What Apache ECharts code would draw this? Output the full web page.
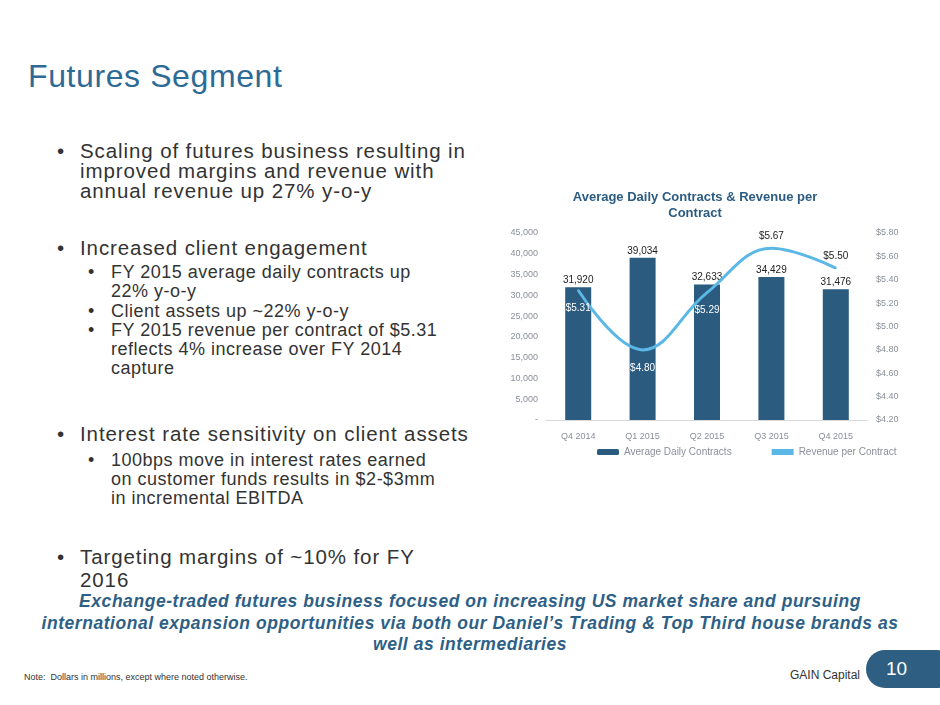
<!DOCTYPE html>
<html><head><meta charset="utf-8">
<script src="https://cdn.jsdelivr.net/npm/echarts@6/dist/echarts.min.js"></script>
<style>
body{margin:0;width:940px;height:705px;position:relative;background:#fff;font-family:Arial,"Liberation Sans",sans-serif;overflow:hidden}
.t{position:absolute;left:28px;top:58px;font-size:32px;letter-spacing:0.6px;color:#2d6a96}
.m,.s{position:absolute;color:#333}
.m{left:80px;font-size:20.5px;letter-spacing:0.9px;line-height:20px;width:400px}
.s{left:111px;font-size:18px;letter-spacing:0.5px;line-height:19px;width:335px}
.m:before,.s:before{content:"•";position:absolute}
.m:before{left:-23px}.s:before{left:-23px}
.b{position:absolute;left:20px;width:900px;top:591px;text-align:center;font-style:italic;font-weight:bold;color:#2e5f86;font-size:17.5px;letter-spacing:0.55px;line-height:21.5px}
</style></head><body>
<div class="t">Futures Segment</div>
<div class="m" style="top:141px">Scaling of futures business resulting in improved margins and revenue with annual revenue up 27% y-o-y</div>
<div class="m" style="top:238px">Increased client engagement</div>
<div class="s" style="top:263px">FY 2015 average daily contracts up 22% y-o-y</div>
<div class="s" style="top:302px">Client assets up ~22% y-o-y</div>
<div class="s" style="top:321px">FY 2015 revenue per contract of $5.31 reflects 4% increase over FY 2014 capture</div>
<div class="m" style="top:424px">Interest rate sensitivity on client assets</div>
<div class="s" style="top:451px">100bps move in interest rates earned on customer funds results in $2-$3mm in incremental EBITDA</div>
<div class="m" style="top:545px;line-height:23px">Targeting margins of ~10% for FY<br>2016</div>
<div class="b">Exchange-traded futures business focused on increasing US market share and pursuing<br>international expansion opportunities via both our Daniel’s Trading &amp; Top Third house brands as<br>well as intermediaries</div>
<div style="position:absolute;left:24px;top:672px;font-size:9px;color:#333">Note:&nbsp; Dollars in millions, except where noted otherwise.</div>
<div style="position:absolute;left:790px;top:668px;font-size:12px;color:#333">GAIN Capital</div>
<div style="position:absolute;left:866px;top:650px;width:90px;height:38px;border-radius:19px;background:#2e5f82;color:#fff;font-size:19px;line-height:38px;padding-left:20px;box-sizing:border-box">10</div>
<div id="c" style="position:absolute;left:480px;top:180px;width:440px;height:290px"></div>
<script>
const categories=['Q4 2014','Q1 2015','Q2 2015','Q3 2015','Q4 2015'];
const contracts=[31920,39034,32633,34429,31476];
const revenue=[5.31,4.80,5.29,5.67,5.50];
const contractLabels=['31,920','39,034','32,633','34,429','31,476'];
const linePos=['bottom','bottom','bottom','top','top'];
const ch=echarts.init(document.getElementById('c'));
const lbl={color:'#8a8f99',fontSize:9,fontFamily:'Arial'};
ch.setOption({
 title:{text:'Average Daily Contracts & Revenue per\nContract',left:210,top:4,textAlign:'center',textStyle:{color:'#2b5b82',fontSize:13,fontWeight:'bold',lineHeight:16}},
 legend:{bottom:8,left:112,itemGap:40,itemWidth:22,itemHeight:6,textStyle:{color:'#8a8f99',fontSize:10},data:[{name:'Average Daily Contracts'},{name:'Revenue per Contract',icon:'rect',itemStyle:{color:'#5bb8e6'}}]},
 grid:{left:66,right:52,top:53,bottom:50},
 xAxis:{type:'category',data:categories,axisTick:{show:false},axisLine:{lineStyle:{color:'#d9d9d9'}},axisLabel:{...lbl,margin:12}},
 yAxis:[{type:'value',min:0,max:45000,interval:5000,splitLine:{show:false},axisLabel:{...lbl,formatter:v=>v===0?'-':v.toLocaleString('en-US')}},
        {type:'value',min:4.2,max:5.8,interval:0.2,splitLine:{show:false},axisLabel:{...lbl,margin:8,formatter:v=>'$'+v.toFixed(2)}}],
 series:[
  {name:'Average Daily Contracts',type:'bar',data:contracts,barWidth:26,itemStyle:{color:'#2b5b7e'},z:1,
   label:{show:true,position:'top',distance:2,color:'#222',fontSize:10,formatter:p=>contractLabels[p.dataIndex]}},
  {name:'Revenue per Contract',type:'line',yAxisIndex:1,smooth:0.4,symbol:'circle',symbolSize:2,showSymbol:true,z:3,
   data:revenue.map((v,i)=>({value:v,label:{position:linePos[i],distance:i<3?12:6,color:i<3?'#ffffff':'#222222'}})),
   lineStyle:{color:'#5bb8e6',width:3},itemStyle:{color:'#5bb8e6'},
   label:{show:true,fontSize:10,formatter:p=>'$'+p.value.toFixed(2)},
   labelLayout:{hideOverlap:false}}
 ]
});
</script>
</body></html>
